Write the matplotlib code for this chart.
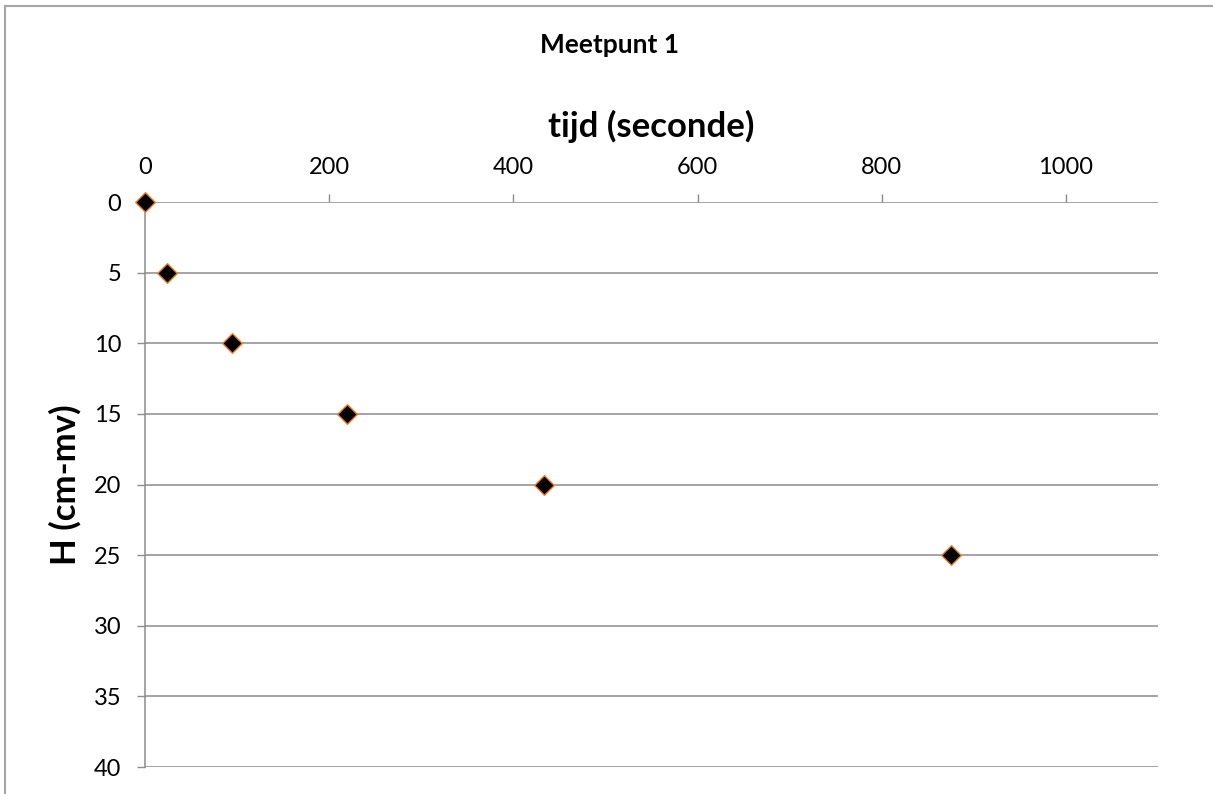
import matplotlib
matplotlib.use("Agg")
import matplotlib.pyplot as plt
from matplotlib.lines import Line2D

# Measured drawdown data, Meetpunt 1
tijd = [0, 24, 94, 219, 433, 875]      # seconds
H = [0, 5, 10, 15, 20, 25]             # cm below surface

x_ticks = [0, 200, 400, 600, 800, 1000]
y_ticks = [0, 5, 10, 15, 20, 25, 30, 35, 40]

plt.rcParams['font.family'] = ['Lato', 'DejaVu Sans']

fig = plt.figure(figsize=(12.13, 7.94), dpi=100)
ax = fig.add_axes([145 / 1213, 27 / 794, 1013 / 1213, 565 / 794])

grid_col = '#8c8c8c'
ax.scatter(tijd, H, marker='D', s=10 ** 2, facecolor='black',
           edgecolor='#f07d1a', linewidth=1.0, zorder=5, clip_on=False)

ax.set_xlim(0, 1100)
ax.set_ylim(40, 0)
ax.set_xticks(x_ticks)
ax.set_yticks(y_ticks)

ax.xaxis.tick_top()
ax.grid(axis='y', color=grid_col, linewidth=1.1)
ax.set_axisbelow(True)
for side in ('right', 'bottom', 'top'):
    ax.spines[side].set_visible(False)
ax.spines['left'].set_color(grid_col)
ax.spines['left'].set_linewidth(1.1)

ax.tick_params(axis='x', direction='out', length=6, width=1.0, color=grid_col,
               pad=11, labelsize=17, labelcolor='black')
ax.tick_params(axis='y', direction='out', length=6, width=1.0, color=grid_col,
               pad=11, labelsize=17, labelcolor='black')

ax.set_xlabel('tijd (seconde)', fontsize=25, fontweight='bold')
ax.xaxis.set_label_position('top')
ax.xaxis.set_label_coords(0.5, 1.133)
ax.xaxis.label.set_va('center')

ax.set_ylabel('H (cm-mv)', fontsize=25, fontweight='bold')
ax.yaxis.set_label_coords(-0.079, 0.5)
ax.yaxis.label.set_va('center')

fig.text(609 / 1213, 1 - 45 / 794, 'Meetpunt 1', ha='center', va='center',
         fontsize=19, fontweight='bold')

# chart area frame (top and left edges)
frame_col = '#a6a6a6'
fig.add_artist(Line2D([5 / 1213, 1], [1 - 6 / 794, 1 - 6 / 794],
                      transform=fig.transFigure, color=frame_col, linewidth=1.5))
fig.add_artist(Line2D([5 / 1213, 5 / 1213], [0, 1 - 6 / 794],
                      transform=fig.transFigure, color=frame_col, linewidth=1.5))

fig.savefig('out.png', dpi=100, facecolor='white')
